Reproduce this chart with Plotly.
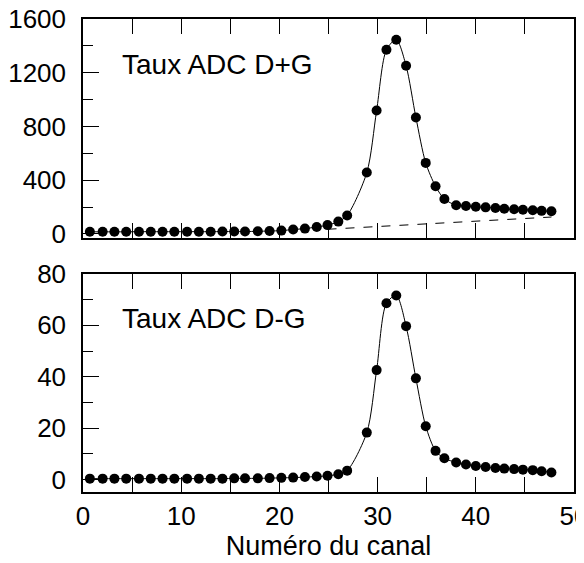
import plotly.graph_objects as go

channels = [0.7, 2.0, 3.2, 4.4, 5.7, 6.9, 8.1, 9.3, 10.6, 11.8, 13.0, 14.2, 15.4, 16.5, 17.8,
            19.0, 20.2, 21.4, 22.6, 23.8, 24.9, 26.0, 26.9, 28.9, 29.9, 30.9, 31.9, 32.9, 33.9,
            34.9, 35.9, 36.8, 38.0, 39.0, 40.0, 41.0, 42.0, 42.9, 43.9, 44.8, 45.8, 46.7, 47.7]

sum_rate = [16, 16, 16, 16, 17, 17, 17, 17, 17, 17, 17, 18, 18, 18, 20, 22, 25, 33, 40, 52, 66, 92, 138,
            457, 919, 1371, 1446, 1252, 867, 529, 355, 260,
            214, 208, 202, 198, 193, 188, 184, 180, 176, 172, 169]

background_x = [24.9, 29.0, 33.0, 37.0, 40.0, 44.0, 47.7]
background_y = [35, 52, 70, 85, 97, 112, 126]

diff_rate = [0.4, 0.4, 0.4, 0.4, 0.4, 0.4, 0.4, 0.4, 0.4, 0.4, 0.4, 0.4, 0.5, 0.5, 0.5, 0.6, 0.7, 0.8,
             1.0, 1.2, 1.5, 2.1, 3.5,
             18.3, 42.6, 68.6, 71.6, 59.7, 39.4, 20.8, 11.2, 8.3,
             6.7, 5.9, 5.3, 4.9, 4.5, 4.3, 4.1, 3.9, 3.7, 3.3, 2.8]

label_top = "Taux ADC D+G"
label_bottom = "Taux ADC D-G"
x_title = "Numéro du canal"

FONT = "Liberation Sans, Arial, Helvetica, sans-serif"

fig = go.Figure()
fig.add_trace(go.Scatter(x=channels, y=sum_rate, mode="lines+markers",
                         line=dict(color="black", width=1, shape="spline", smoothing=0.8),
                         marker=dict(color="black", size=10), xaxis="x", yaxis="y",
                         showlegend=False, cliponaxis=False))
fig.add_trace(go.Scatter(x=background_x, y=background_y, mode="lines",
                         line=dict(color="black", width=1, dash="dash"), xaxis="x", yaxis="y",
                         showlegend=False))
fig.add_trace(go.Scatter(x=channels, y=diff_rate, mode="lines+markers",
                         line=dict(color="black", width=1, shape="spline", smoothing=0.8),
                         marker=dict(color="black", size=10), xaxis="x2", yaxis="y2",
                         showlegend=False, cliponaxis=False))

tickfont = dict(family=FONT, size=26, color="black")
common_x = dict(range=[0, 50], showgrid=False, zeroline=False, showline=True, linecolor="black",
                linewidth=1.5, mirror="ticks", ticks="inside", ticklen=15, tickcolor="black",
                tickwidth=1, tickfont=tickfont, dtick=10, tick0=0, automargin=False,
                ticklabeloverflow="allow",
                minor=dict(dtick=5, ticks="inside", ticklen=15, tickcolor="black", tickwidth=1))

top_dom = [0.537, 1.0]
bot_dom = [0.0, 0.461]

fig.update_layout(
    width=576, height=555,
    margin=dict(l=75, r=10, t=11, b=71),
    paper_bgcolor="white", plot_bgcolor="white",
    font=dict(family=FONT, color="black"),
    xaxis=dict(common_x, anchor="y", domain=[0, 1], showticklabels=False),
    xaxis2=dict(common_x, anchor="y2", domain=[0, 1], showticklabels=True,
                title=dict(text=x_title, font=dict(family=FONT, size=27, color="black"), standoff=2)),
    yaxis=dict(domain=top_dom, anchor="x", range=[-30, 1600], showgrid=False, zeroline=False,
               showline=True, linecolor="black", linewidth=1.5, mirror=True, automargin=False,
               ticks="inside", ticklen=16, tickcolor="black", tickwidth=1, dtick=400, tick0=0,
               tickfont=tickfont, ticklabelstandoff=10, ticklabeloverflow="allow",
               minor=dict(dtick=200, ticks="inside", ticklen=10, tickcolor="black", tickwidth=1)),
    yaxis3=dict(overlaying="y", anchor="x", side="right", range=[-30, 1600], showgrid=False,
                zeroline=False, showline=False, ticks="inside", ticklen=11, tickcolor="black",
                tickwidth=1, dtick=200, tick0=0, showticklabels=False, automargin=False),
    yaxis2=dict(domain=bot_dom, anchor="x2", range=[-4.8, 80], showgrid=False, zeroline=False,
                showline=True, linecolor="black", linewidth=1.5, mirror=True, automargin=False,
                ticks="inside", ticklen=16, tickcolor="black", tickwidth=1, dtick=20, tick0=0,
                tickfont=tickfont, ticklabelstandoff=10, ticklabeloverflow="allow",
                minor=dict(dtick=10, ticks="inside", ticklen=10, tickcolor="black", tickwidth=1)),
    yaxis4=dict(overlaying="y2", anchor="x2", side="right", range=[-4.8, 80], showgrid=False,
                zeroline=False, showline=False, ticks="inside", ticklen=11, tickcolor="black",
                tickwidth=1, dtick=10, tick0=0, showticklabels=False, automargin=False),
    annotations=[
        dict(text=label_top, x=3.8, y=1259, xref="x", yref="y", xanchor="left", yanchor="middle",
             showarrow=False, font=dict(family=FONT, size=28, color="black")),
        dict(text=label_bottom, x=3.8, y=62.5, xref="x2", yref="y2", xanchor="left",
             yanchor="middle", showarrow=False, font=dict(family=FONT, size=28, color="black")),
    ],
)

fig.write_html("out.html")
